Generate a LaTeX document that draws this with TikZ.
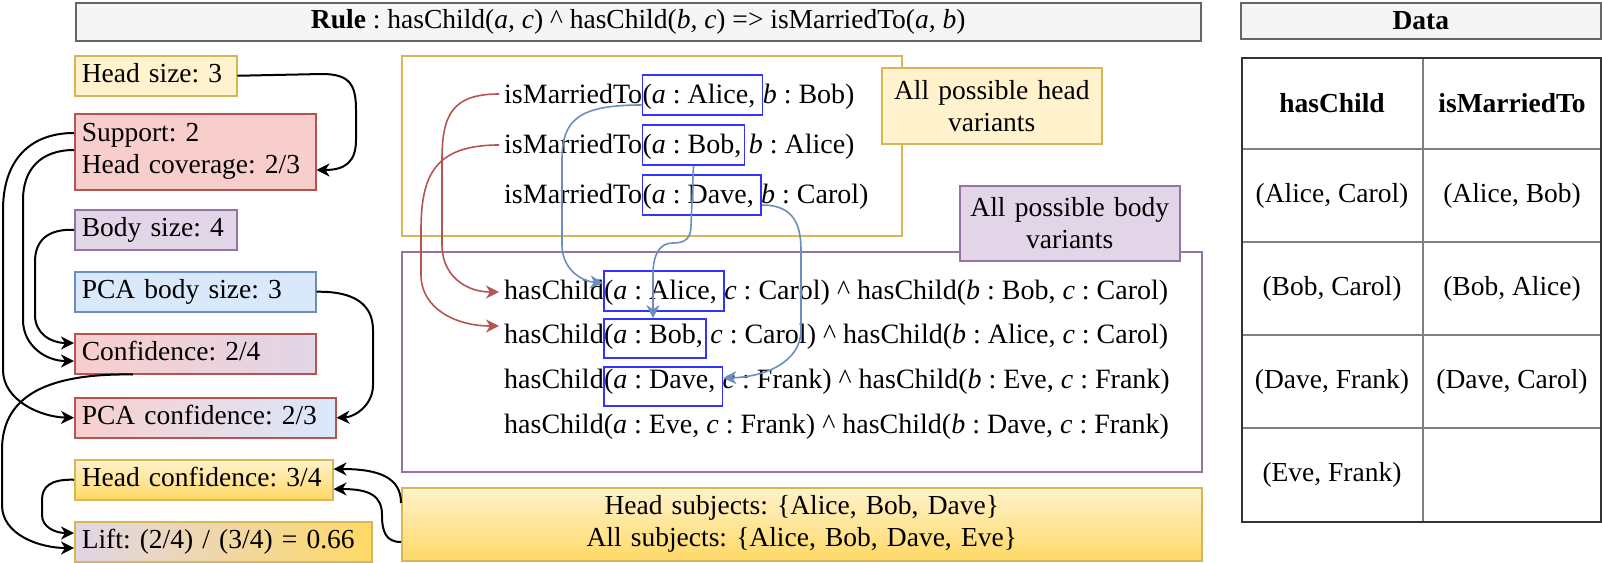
\documentclass[tikz,border=0pt]{standalone}
\usepackage{fontspec}
\setmainfont{Liberation Serif}
\usetikzlibrary{arrows.meta,fit,calc}
\definecolor{yF}{HTML}{FFF2CC}
\definecolor{yS}{HTML}{D6B656}
\definecolor{gB}{HTML}{FFD966}
\definecolor{rF}{HTML}{F8CECC}
\definecolor{rS}{HTML}{B85450}
\definecolor{pF}{HTML}{E1D5E7}
\definecolor{pS}{HTML}{9673A6}
\definecolor{bF}{HTML}{DAE8FC}
\definecolor{bS}{HTML}{6C8EBF}
\definecolor{gF}{HTML}{F5F5F5}
\definecolor{gS}{HTML}{666666}
\definecolor{vB}{HTML}{3333FF}
\definecolor{tD}{HTML}{333333}
\definecolor{tL}{HTML}{808080}
\frenchspacing
\begin{document}
\frenchspacing
\begin{tikzpicture}[x=1pt,y=-1pt,font=\fontsize{27.5}{32}\selectfont\frenchspacing,
  lbox/.style={draw, line width=1.5pt, anchor=north west, inner xsep=7pt, inner ysep=0pt, align=left, minimum height=40pt},
  one/.style={text height=19pt, text depth=5pt},
  tx/.style={inner sep=0pt, anchor=base west, text height=19pt, text depth=5pt, font=\fontsize{28}{32}\selectfont\frenchspacing},
  vbox/.style={draw=vB, line width=1.6pt, inner sep=0pt},
  frame/.style={line width=1.5pt, inner sep=0pt, anchor=north west},
  blk/.style={line width=2pt, -{Stealth[length=13pt,width=13pt,inset=4pt]}},
  redc/.style={draw=rS, line width=1.6pt, -{Stealth[length=13pt,width=13pt,inset=4pt]}},
  bluec/.style={draw=bS, line width=1.6pt, -{Stealth[length=13pt,width=13pt,inset=4pt]}},
  cell/.style={inner sep=0pt, anchor=center}]
\useasboundingbox (0,0) rectangle (1602,562);

% header boxes
\node[frame, draw=gS, fill=gF, minimum width=1125pt, minimum height=38pt] (rule) at (75,2)
  {\textbf{Rule} : hasChild(\textit{a, c}) \textasciicircum{} hasChild(\textit{b, c}) => isMarriedTo(\textit{a, b})};
\node[frame, draw=gS, fill=gF, minimum width=360pt, minimum height=36pt] (data) at (1240,2) {\textbf{Data}};

% table
\draw[tL, line width=1.5pt] (1423,57) -- (1423,521);
\foreach \yy in {149,242,335,428} \draw[tL, line width=1.5pt] (1241,\yy) -- (1600,\yy);
\node[frame, draw=tD, line width=2pt, minimum width=359pt, minimum height=464pt] (table) at (1241,57) {};
\node[cell] (th1) at (1332,103) {\textbf{hasChild}};
\node[cell] (th2) at (1512,103) {\textbf{isMarriedTo}};
\node[cell] (c11) at (1332,195.5) {(Alice, Carol)};
\node[cell] (c12) at (1512,195.5) {(Alice, Bob)};
\node[cell] (c21) at (1332,288.5) {(Bob, Carol)};
\node[cell] (c22) at (1512,288.5) {(Bob, Alice)};
\node[cell] (c31) at (1332,381.5) {(Dave, Frank)};
\node[cell] (c32) at (1512,381.5) {(Dave, Carol)};
\node[cell] (c41) at (1332,474.5) {(Eve, Frank)};

% left column
\node[lbox, one, draw=yS, fill=yF, text width=148pt] (hs) at (74,55) {Head size: 3};
\node[lbox, draw=rS, fill=rF, text width=227pt, minimum height=76pt] (sup) at (74,113) {Support: 2\\Head coverage: 2/3};
\node[lbox, one, draw=pS, fill=pF, text width=148pt] (bs) at (74,209) {Body size: 4};
\node[lbox, one, draw=bS, fill=bF, text width=227pt] (pbs) at (74,271) {PCA body size: 3};
\node[lbox, one, draw=rS, left color=rF, right color=pF, text width=227pt] (conf) at (74,333) {Confidence: 2/4};
\node[lbox, one, draw=rS, left color=rF, right color=bF, text width=247pt] (pconf) at (74,397) {PCA confidence: 2/3};
\node[lbox, one, draw=yS, top color=yF, bottom color=gB, text width=244pt] (hconf) at (74,459) {Head confidence: 3/4};
\node[lbox, one, draw=yS, left color=pF, right color=gB, text width=283pt] (lift) at (74,521) {Lift: (2/4) / (3/4) = 0.66};

% variant frames
\node[frame, draw=yS, minimum width=500pt, minimum height=180pt] (headbox) at (401,55) {};
\node[frame, draw=pS, minimum width=800pt, minimum height=220pt] (bodybox) at (401,251) {};
\node[frame, draw=yS, fill=yF, minimum width=220pt, minimum height=76pt, align=center, text width=212pt] (hlabel) at (881,67) {All possible head\\variants};
\node[frame, draw=pS, fill=pF, minimum width=220pt, minimum height=75pt, align=center, text width=212pt] (blabel) at (959,185) {All possible body\\variants};
\node[frame, draw=yS, top color=yF, bottom color=gB, minimum width=800pt, minimum height=73pt, align=center, text width=790pt] (sub) at (401,487)
  {Head subjects: \{Alice, Bob, Dave\}\\All subjects: \{Alice, Bob, Dave, Eve\}};

% head variants text
\node[tx] (h1a) at (504,103) {isMarriedTo};
\node[tx] (h1b) at (h1a.base east) {(\textit{a} : Alice,\kern0.25em};
\node[tx] (h1c) at (h1b.base east) {\textit{b} : Bob)};
\node[tx] (h2a) at (504,153) {isMarriedTo};
\node[tx] (h2b) at (h2a.base east) {(\textit{a} : Bob,\kern3pt};
\node[tx] (h2c) at (h2b.base east) {\kern4pt\textit{b} : Alice)};
\node[tx] (h3a) at (504,203) {isMarriedTo};
\node[tx] (h3b) at (h3a.base east) {(\textit{a} : Dave,\kern0.25em};
\node[tx] (h3c) at (h3b.base east) {\textit{b} : Carol)};
\node[vbox, fit={(h1b.west |- 0,75) (h1b.east |- 0,115)}] (hb1) {};
\node[vbox, fit={(h2b.west |- 0,125) (h2b.east |- 0,165)}] (hb2) {};
\node[vbox, fit={(h3b.west |- 0,175) (h3b.east |- 0,215)}] (hb3) {};

% body variants text
\node[tx] (b1a) at (504,299) {hasChild};
\node[tx] (b1b) at (b1a.base east) {(\textit{a} : Alice,\kern0.25em};
\node[tx] (b1c) at (b1b.base east) {\textit{c} : Carol) \textasciicircum{} hasChild(\textit{b} : Bob, \textit{c} : Carol)};
\node[tx] (b2a) at (504,343) {hasChild};
\node[tx] (b2b) at (b2a.base east) {(\textit{a} : Bob,\kern3pt};
\node[tx] (b2c) at (b2b.base east) {\kern4pt\textit{c} : Carol) \textasciicircum{} hasChild(\textit{b} : Alice, \textit{c} : Carol)};
\node[tx] (b3a) at (504,388) {hasChild};
\node[tx] (b3b) at (b3a.base east) {(\textit{a} : Dave,\kern0.25em};
\node[tx] (b3c) at (b3b.base east) {\textit{c} : Frank) \textasciicircum{} hasChild(\textit{b} : Eve, \textit{c} : Frank)};
\node[tx] (b4a) at (504,433) {hasChild(\textit{a} : Eve, \textit{c} : Frank) \textasciicircum{} hasChild(\textit{b} : Dave, \textit{c} : Frank)};
\node[vbox, fit={(b1b.west |- 0,271) (b1b.east |- 0,311)}] (bb1) {};
\node[vbox, fit={(b2b.west |- 0,319) (b2b.east |- 0,358)}] (bb2) {};
\node[vbox, fit={(b3b.west |- 0,367) (b3b.east |- 0,406)}] (bb3) {};

% black connectors
\draw[blk] (hs.east) -- (322,74) .. controls (350,74) and (356,85) .. (356,110) -- (356,140) .. controls (356,162) and (345,170) .. (sup.east |- 0,170);
\draw[blk] (sup.west |- 0,133) .. controls (30,133) and (3,160) .. (3,210) -- (3,370) .. controls (3,400) and (40,417) .. (pconf.west);
\draw[blk] (sup.west |- 0,150) .. controls (40,150) and (23,170) .. (23,200) -- (23,320) .. controls (23,345) and (45,361) .. (conf.west |- 0,361);
\draw[blk] (bs.west) .. controls (48,229) and (35,240) .. (35,262) -- (35,315) .. controls (35,333) and (50,343) .. (conf.west |- 0,343);
\draw[blk] (pbs.east) .. controls (355,291) and (373,305) .. (373,330) -- (373,385) .. controls (373,405) and (355,417) .. (pconf.east);
\draw[blk] (133,0 |- conf.south) .. controls (40,373) and (2,400) .. (2,450) -- (2,505) .. controls (2,535) and (40,548) .. (lift.west |- 0,548);
\draw[blk] (hconf.west) .. controls (50,479) and (42,487) .. (42,500) -- (42,515) .. controls (42,527) and (55,533) .. (lift.west |- 0,533);
\draw[blk] (sub.west |- 0,503) .. controls (401,478) and (380,469) .. (hconf.east |- 0,469);
\draw[blk] (sub.west |- 0,542) .. controls (386,542) and (382,532) .. (382,515) .. controls (382,496) and (370,489) .. (hconf.east |- 0,489);

% red connectors
\draw[redc] ($(h1a.west)+(-5,-2)$) .. controls (452,94) and (442,115) .. (442,160) -- (442,245) .. controls (442,275) and (465,292) .. ($(b1a.west)+(-5,0)$);
\draw[redc] ($(h2a.west)+(-5,-1)$) .. controls (435,145) and (421,175) .. (421,230) -- (421,275) .. controls (421,308) and (455,326) .. ($(b2a.west)+(-5,-10)$);

% blue connectors
\draw[bluec] (hb1.west |- 0,105) .. controls (578,105) and (562,120) .. (562,160) -- (562,245) .. controls (562,268) and (580,281) .. (bb1.west |- 0,283);
\draw[bluec] (hb2.south) -- (691,225) .. controls (691,238) and (686,243) .. (673,243) .. controls (659,243) and (653,255) .. (653,275) -- (653,0 |- bb2.north);
\draw[bluec] (hb3.east |- 0,205) .. controls (790,205) and (801,220) .. (801,250) -- (801,330) .. controls (801,362) and (765,377) .. (bb3.east |- 0,378);
\end{tikzpicture}
\end{document}
